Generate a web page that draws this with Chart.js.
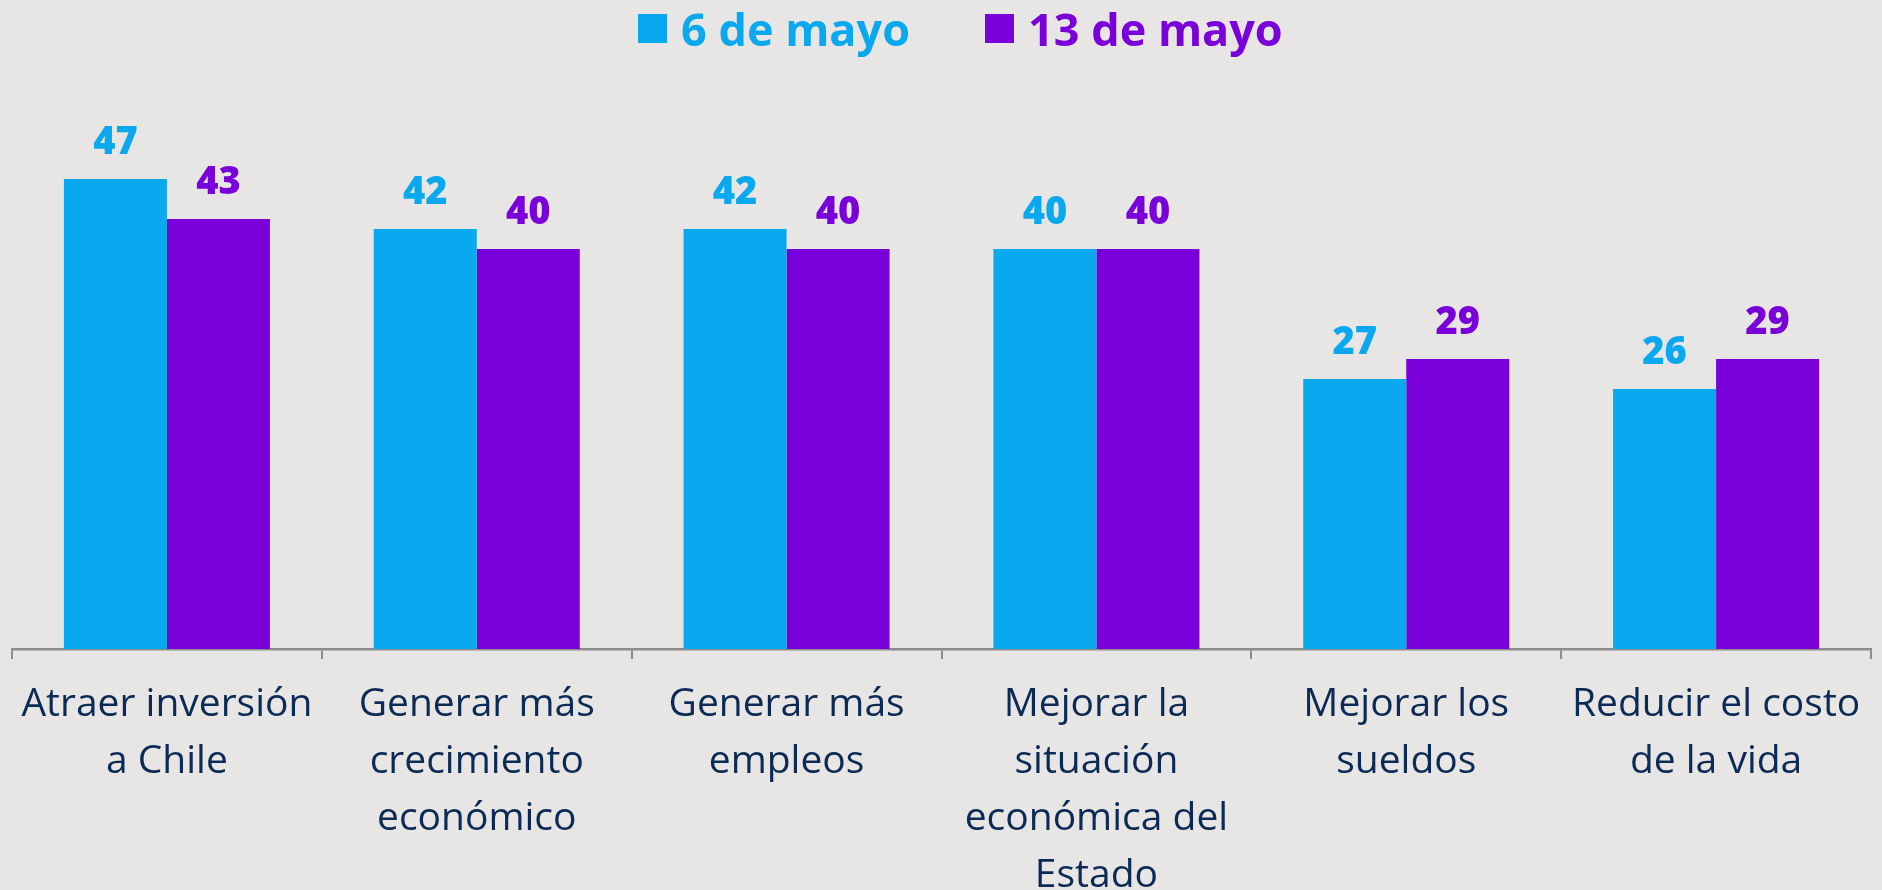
<!DOCTYPE html>
<html>
<head>
<meta charset="utf-8">
<script src="https://cdn.jsdelivr.net/npm/chart.js@4.4.1/dist/chart.umd.min.js"></script>
<style>
    html, body { margin: 0; padding: 0; background: #e8e6e4; overflow: hidden; }
    #wrap { position: relative; width: 1882px; height: 890px; overflow: hidden; }
    #legend {
        position: absolute; top: 0; left: 638px; height: 57px;
        display: flex; align-items: center;
        font-family: 'Open Sans', sans-serif; font-weight: 700; font-size: 45px;
    }
    #legend .item { display: flex; align-items: center; margin-right: 75px; }
    #legend .box { width: 29px; height: 29px; margin-right: 14px; }
    canvas { display: block; }
</style>
</head>
<body>
<div id="wrap">
    <canvas id="chart" width="1882" height="922"></canvas>
    <div id="legend"></div>
</div>
<script>
// data
const categories = [
    ["Atraer inversión", "a Chile"],
    ["Generar más", "crecimiento", "económico"],
    ["Generar más", "empleos"],
    ["Mejorar la", "situación", "económica del", "Estado"],
    ["Mejorar los", "sueldos"],
    ["Reducir el costo", "de la vida"]
];
const seriesNames = ["6 de mayo", "13 de mayo"];
const mayo6 = [47, 42, 42, 40, 27, 26];
const mayo13 = [43, 40, 40, 40, 29, 29];

const colors = {
    blue: "#0aa8ee",
    purple: "#7a00d9",
    navy: "#0c2a56",
    axis: "#8c8c8c"
};

// numbers above each bar
const valueLabels = {
    id: "valueLabels",
    afterDatasetsDraw(chart) {
        const ctx = chart.ctx;
        chart.data.datasets.forEach((ds, i) => {
            const meta = chart.getDatasetMeta(i);
            ctx.save();
            ctx.font = "800 38px 'Open Sans', sans-serif";
            ctx.fillStyle = ds.backgroundColor;
            ctx.textAlign = "center";
            ctx.textBaseline = "alphabetic";
            meta.data.forEach((bar, j) => {
                ctx.fillText(ds.data[j], bar.x, bar.y - 25);
            });
            ctx.restore();
        });
    }
};

const chart = new Chart(document.getElementById("chart"), {
    type: "bar",
    data: {
        labels: categories,
        datasets: [
            { label: seriesNames[0], data: mayo6, backgroundColor: colors.blue, borderWidth: 0 },
            { label: seriesNames[1], data: mayo13, backgroundColor: colors.purple, borderWidth: 0 }
        ]
    },
    options: {
        responsive: false,
        animation: false,
        datasets: { bar: { categoryPercentage: 0.665, barPercentage: 1.0 } },
        layout: { padding: { top: 149, left: 12, right: 11, bottom: 0 } },
        plugins: {
            legend: { display: false },
            tooltip: { enabled: false }
        },
        scales: {
            x: {
                grid: {
                    display: true,
                    drawOnChartArea: false,
                    drawTicks: true,
                    tickLength: 10,
                    color: colors.axis,
                    lineWidth: 2,
                    offset: true
                },
                border: { display: true, color: colors.axis, width: 2.5 },
                ticks: {
                    color: colors.navy,
                    padding: 17.5,
                    maxRotation: 0,
                    autoSkip: false,
                    font: { family: "'Open Sans', sans-serif", size: 39, lineHeight: "57px" }
                }
            },
            y: { display: false, min: 0, max: 50 }
        }
    },
    plugins: [valueLabels]
});

// html legend built from the datasets
const legendEl = document.getElementById("legend");
chart.data.datasets.forEach(ds => {
    const item = document.createElement("div");
    item.className = "item";
    item.style.color = ds.backgroundColor;
    const box = document.createElement("span");
    box.className = "box";
    box.style.background = ds.backgroundColor;
    const txt = document.createElement("span");
    txt.textContent = ds.label;
    item.appendChild(box);
    item.appendChild(txt);
    legendEl.appendChild(item);
});
</script>
</body>
</html>
